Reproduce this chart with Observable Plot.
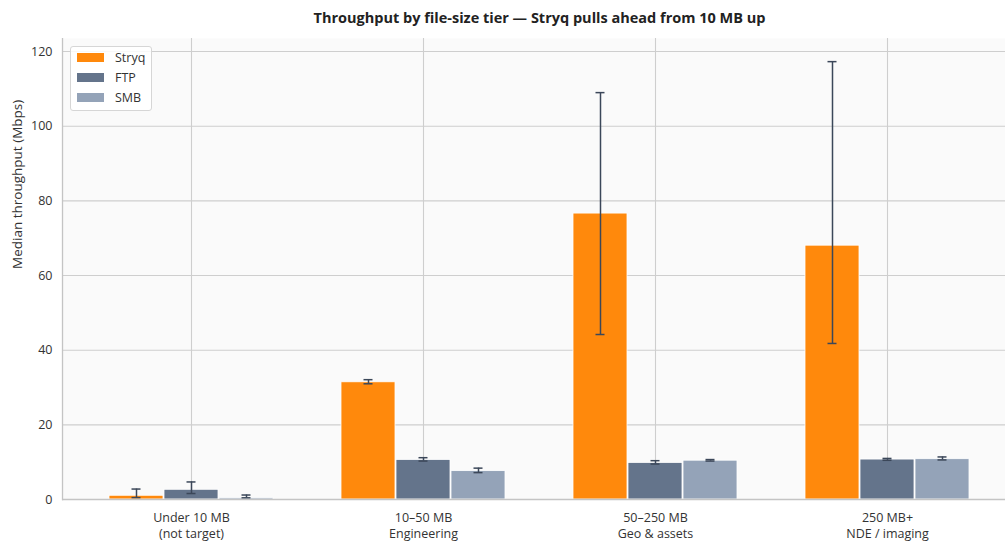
<!DOCTYPE html>
<html><head><meta charset="utf-8">
<script src="https://cdn.jsdelivr.net/npm/d3@7"></script>
<script src="https://cdn.jsdelivr.net/npm/@observablehq/plot@0.6"></script>
<style>
body{margin:0;background:#fff;font-family:"Open Sans",sans-serif;overflow:hidden}
#wrap{position:relative;width:1005px;height:544px;overflow:hidden}
#title{height:38px;line-height:35px;padding-left:74px;text-align:center;font-weight:700;font-size:14.5px;color:#222;white-space:nowrap}
#legend{position:absolute;left:70px;top:46px;width:80px;height:63px;border:1px solid #d6d6d6;border-radius:3px;background:rgba(255,255,255,0.85);font-size:12.5px;color:#333}
.sw{position:absolute;left:6px;width:27px;height:9px}
.lb{position:absolute;left:44px;line-height:16px}
</style></head><body>
<div id="wrap"><div id="title"></div><div id="chart"></div><div id="legend"></div></div>
<script>
const title = "Throughput by file-size tier — Stryq pulls ahead from 10 MB up";
const yLabel = "Median throughput (Mbps)";
const tiers = ["Under 10 MB\n(not target)", "10–50 MB\nEngineering", "50–250 MB\nGeo & assets", "250 MB+\nNDE / imaging"];
const series = ["Stryq", "FTP", "SMB"];
const colors = ["#ff890c", "#64748b", "#94a3b8"];
const yTicks = [0, 20, 40, 60, 80, 100, 120];

const stryqMedian = [1.0, 31.4, 76.6, 68.0];
const stryqLow    = [0.5, 31.0, 44.2, 41.8];
const stryqHigh   = [2.8, 32.1, 109.0, 117.3];
const ftpMedian   = [2.6, 10.6, 9.8, 10.7];
const ftpLow      = [1.6, 10.3, 9.5, 10.5];
const ftpHigh     = [4.7, 11.2, 10.4, 11.0];
const smbMedian   = [0.35, 7.6, 10.4, 10.8];
const smbLow      = [0.45, 7.2, 10.3, 10.6];
const smbHigh     = [1.2, 8.4, 10.7, 11.4];

const seriesData = {
  Stryq: [stryqMedian, stryqLow, stryqHigh],
  FTP: [ftpMedian, ftpLow, ftpHigh],
  SMB: [smbMedian, smbLow, smbHigh]
};
const rows = [];
series.forEach(s => tiers.forEach((t, i) => {
  const [m, lo, hi] = seriesData[s];
  rows.push({tier: t, series: s, value: m[i], lo: lo[i], hi: hi[i]});
}));

document.getElementById("title").textContent = title;

const band = 165, bw = band / 3, cap = 10;
const errColor = "#3b4759";
const marks = [
  Plot.frame({fill: "#fafafa", stroke: null}),
  Plot.gridY(yTicks, {stroke: "#cecece", strokeOpacity: 1, strokeWidth: 1.1}),
  Plot.gridX({stroke: "#cecece", strokeOpacity: 1, strokeWidth: 1.1})
];
series.forEach((s, k) => {
  const d = rows.filter(r => r.series === s);
  marks.push(Plot.barY(d, {x: "tier", y: "value", fill: "series", stroke: "white", strokeWidth: 0.8,
    insetLeft: k * bw, insetRight: (2 - k) * bw}));
});
series.forEach((s, k) => {
  const d = rows.filter(r => r.series === s);
  const dx = (k - 1) * bw;
  marks.push(Plot.ruleX(d, {x: "tier", y1: "lo", y2: "hi", dx, stroke: errColor, strokeWidth: 1.5}));
  marks.push(Plot.tickY(d, {x: "tier", y: "lo", dx, insetLeft: (band - cap) / 2, insetRight: (band - cap) / 2, stroke: errColor, strokeWidth: 1.5}));
  marks.push(Plot.tickY(d, {x: "tier", y: "hi", dx, insetLeft: (band - cap) / 2, insetRight: (band - cap) / 2, stroke: errColor, strokeWidth: 1.5}));
});
marks.push(
  Plot.ruleY([0], {stroke: "#c4c4c4", strokeWidth: 1.3}),
  Plot.frame({anchor: "left", stroke: "#c4c4c4", strokeWidth: 1.3}),
  Plot.axisY(yTicks, {tickSize: 0, tickPadding: 10, fontSize: 12.5, color: "#333", label: null}),
  Plot.text([yLabel], {frameAnchor: "left", rotate: -90, dx: -45, fontSize: 13.5, fill: "#333"}),
  Plot.axisX({tickSize: 0, tickPadding: 11, fontSize: 12.5, lineHeight: 1.3, color: "#333", label: null})
);

const chart = Plot.plot({
  width: 1005, height: 506,
  marginTop: 0, marginBottom: 45, marginLeft: 62, marginRight: 0,
  style: {fontFamily: "'Open Sans', sans-serif", fontSize: "12.5px", color: "#333", background: "transparent"},
  x: {domain: tiers, range: [62, 1017], paddingInner: 0.291, paddingOuter: 0.198, align: 0.5},
  y: {domain: [0, 123.5]},
  color: {domain: series, range: colors},
  marks
});
document.getElementById("chart").append(chart);

const leg = document.getElementById("legend");
series.forEach((s, k) => {
  const sw = document.createElement("div");
  sw.className = "sw"; sw.style.top = (6 + 20 * k) + "px"; sw.style.background = colors[k];
  const lb = document.createElement("div");
  lb.className = "lb"; lb.style.top = (2.5 + 20 * k) + "px"; lb.textContent = s;
  leg.append(sw, lb);
});
</script>
</body></html>
